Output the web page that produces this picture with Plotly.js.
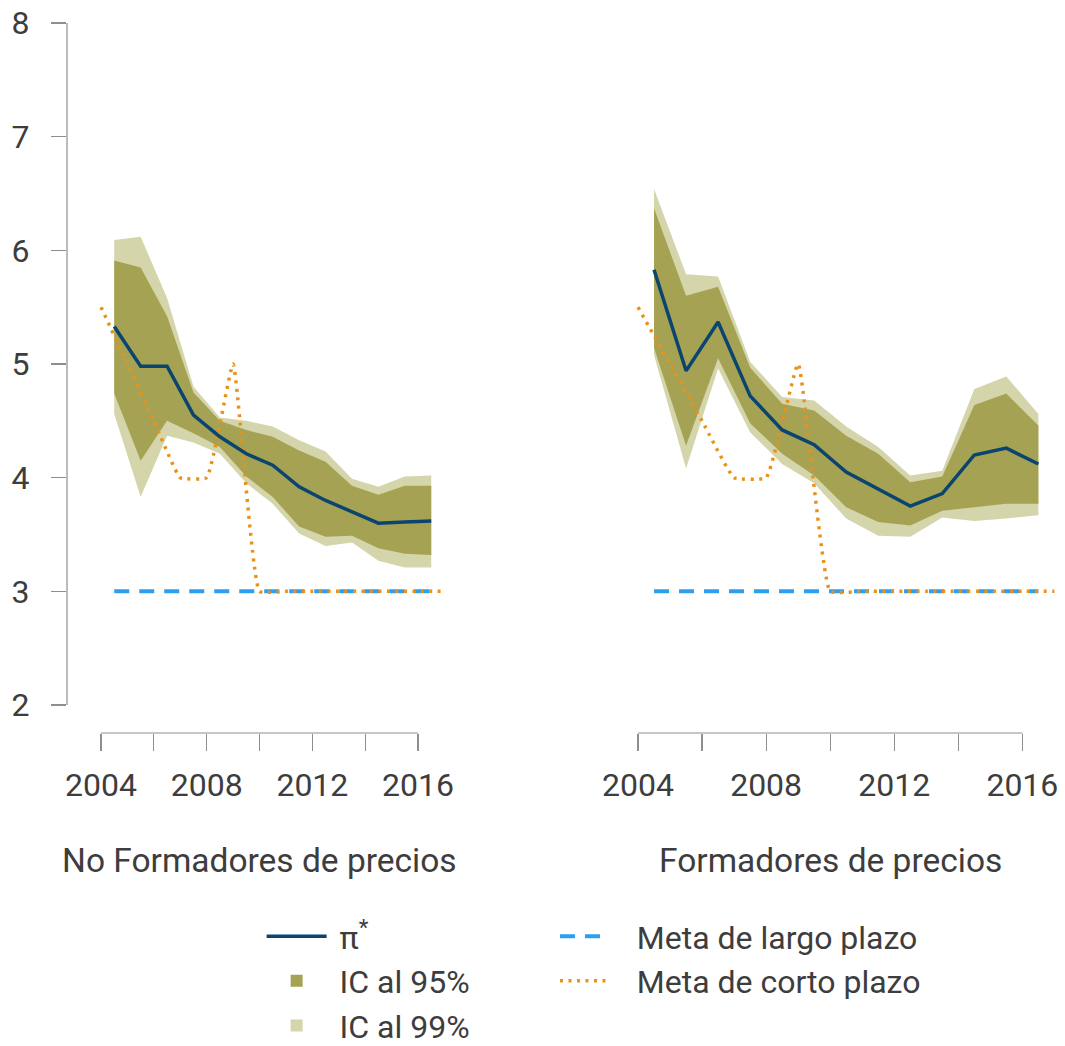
<!DOCTYPE html>
<html>
<head>
<meta charset="utf-8">
<script src="https://cdn.plot.ly/plotly-3.0.1.min.js"></script>
<style>html,body{margin:0;padding:0;background:#fff;}</style>
</head>
<body>
<div id="chart" style="width:1065px;height:1046px;"></div>
<script>
// ---- Data ----
const years = [2004.5, 2005.5, 2006.5, 2007.5, 2008.5, 2009.5, 2010.5, 2011.5, 2012.5, 2013.5, 2014.5, 2015.5, 2016.5];

// No Formadores de precios
const noPi    = [5.33, 4.98, 4.98, 4.55, 4.36, 4.21, 4.11, 3.92, 3.80, 3.70, 3.60, 3.61, 3.62];
const noHi95  = [5.91, 5.85, 5.42, 4.75, 4.50, 4.42, 4.36, 4.24, 4.14, 3.93, 3.85, 3.93, 3.93];
const noLo95  = [4.74, 4.15, 4.50, 4.39, 4.27, 4.01, 3.83, 3.57, 3.48, 3.49, 3.38, 3.33, 3.32];
const noHi99  = [6.09, 6.12, 5.58, 4.80, 4.53, 4.50, 4.45, 4.33, 4.23, 3.99, 3.92, 4.01, 4.02];
const noLo99  = [4.56, 3.83, 4.37, 4.31, 4.21, 3.95, 3.77, 3.51, 3.40, 3.43, 3.27, 3.21, 3.21];

// Formadores de precios
const fPi     = [5.83, 4.94, 5.37, 4.72, 4.42, 4.29, 4.05, 3.90, 3.75, 3.86, 4.20, 4.26, 4.12];
const fHi95   = [6.37, 5.60, 5.68, 4.97, 4.65, 4.59, 4.37, 4.21, 3.96, 4.01, 4.64, 4.74, 4.46];
const fLo95   = [5.14, 4.28, 5.05, 4.48, 4.21, 4.02, 3.74, 3.61, 3.58, 3.71, 3.74, 3.77, 3.77];
const fHi99   = [6.54, 5.79, 5.77, 5.02, 4.71, 4.68, 4.45, 4.27, 4.02, 4.06, 4.78, 4.89, 4.56];
const fLo99   = [5.08, 4.08, 4.96, 4.40, 4.12, 3.95, 3.64, 3.49, 3.48, 3.65, 3.62, 3.64, 3.67];

// Metas
const longTerm = [3, 3, 3, 3, 3, 3, 3, 3, 3, 3, 3, 3, 3];
const targetYears = [2004, 2005, 2006, 2007, 2008, 2009, 2010, 2011, 2012, 2013, 2014, 2015, 2016, 2017];
const shortTerm   = [5.5, 5.0, 4.5, 4.0, 4.0, 5.0, 3.0, 3.0, 3.0, 3.0, 3.0, 3.0, 3.0, 3.0];

const xTickVals = [2004, 2008, 2012, 2016];
const xMinorTickVals = [2006, 2010, 2014];
const yTickVals = [2, 3, 4, 5, 6, 7, 8];

const panelTitles = ['No Formadores de precios', 'Formadores de precios'];
const legendNames = ['π<sup>*</sup>', 'IC al 95%', 'IC al 99%', 'Meta de largo plazo', 'Meta de corto plazo'];

// ---- Styles ----
const C_PI = '#0c4470';
const C_95 = '#a5a353';
const C_99 = '#d5d5ac';
const C_LONG = '#2c9ff0';
const C_SHORT = '#e8921c';
const TXT = '#3d3d3d';
const AX = '#8e8e8e';
const FONT = 'Roboto, "Noto Sans", sans-serif';
const PAD1 = '\u00A0';
const PAD2 = '\u00A0\u00A0\u00A0';

function panel(xa, pi, hi95, lo95, hi99, lo99, first) {
  return [
    {x: years, y: lo99, xaxis: xa, yaxis: 'y', mode: 'lines', line: {width: 0, color: C_99}, showlegend: false, hoverinfo: 'skip'},
    {x: years, y: hi99, xaxis: xa, yaxis: 'y', mode: 'lines', line: {width: 0, color: C_99}, fill: 'tonexty', fillcolor: C_99, showlegend: false, hoverinfo: 'skip'},
    {x: years, y: lo95, xaxis: xa, yaxis: 'y', mode: 'lines', line: {width: 0, color: C_95}, showlegend: false, hoverinfo: 'skip'},
    {x: years, y: hi95, xaxis: xa, yaxis: 'y', mode: 'lines', line: {width: 0, color: C_95}, fill: 'tonexty', fillcolor: C_95, showlegend: false, hoverinfo: 'skip'},
    {x: years, y: longTerm, xaxis: xa, yaxis: 'y', mode: 'lines', name: PAD2 + legendNames[3], legend: 'legend2',
     line: {color: C_LONG, width: 4, dash: '15px,10px'}, showlegend: first},
    {x: targetYears, y: shortTerm, xaxis: xa, yaxis: 'y', mode: 'lines', name: PAD2 + legendNames[4], legend: 'legend2',
     line: {color: C_SHORT, width: 3.5, dash: '3px,5.5px', shape: 'spline', smoothing: 0.35}, showlegend: first},
    {x: years, y: pi, xaxis: xa, yaxis: 'y', mode: 'lines', name: PAD1 + legendNames[0], legend: 'legend',
     line: {color: C_PI, width: 3.5}, showlegend: first}
  ];
}

const legendDummies = [
  {x: [null], y: [null], xaxis: 'x', yaxis: 'y', mode: 'markers', name: PAD1 + legendNames[1], legend: 'legend',
   marker: {symbol: 'square', size: 12, color: C_95}},
  {x: [null], y: [null], xaxis: 'x', yaxis: 'y', mode: 'markers', name: PAD1 + legendNames[2], legend: 'legend',
   marker: {symbol: 'square', size: 12, color: C_99}}
];

const leftTraces = panel('x', noPi, noHi95, noLo95, noHi99, noLo99, true);
const rightTraces = panel('x2', fPi, fHi95, fLo95, fHi99, fLo99, false);
const data = [...leftTraces, ...rightTraces, ...legendDummies];

const xaxisBase = {
  tickmode: 'array', tickvals: xTickVals, ticks: 'outside', ticklen: 17, tickwidth: 1.2, tickcolor: AX,
  minor: {tickmode: 'array', tickvals: xMinorTickVals, ticks: 'outside', ticklen: 17, tickwidth: 1.2, tickcolor: AX, showgrid: false},
  showline: false, showgrid: false, zeroline: false, anchor: 'y',
  tickfont: {family: FONT, size: 32, color: TXT}, ticklabelstandoff: 7, fixedrange: true
};

const layout = {
  width: 1065, height: 1046,
  margin: {l: 67, r: 5, t: 23, b: 313, autoexpand: false},
  paper_bgcolor: '#ffffff', plot_bgcolor: '#ffffff',
  font: {family: FONT, size: 32, color: TXT},
  xaxis: Object.assign({}, xaxisBase, {domain: [0, 0.3857], range: [2002.712, 2017.21]}),
  xaxis2: Object.assign({}, xaxisBase, {domain: [0.5569, 1], range: [2003.438, 2017.175]}),
  yaxis: {
    domain: [0, 1], range: [1.754, 8], tickvals: yTickVals, ticks: 'outside', ticklen: 15, tickwidth: 1.2, tickcolor: AX,
    showline: false, showgrid: false, zeroline: false, anchor: 'x',
    tickfont: {family: FONT, size: 32, color: TXT}, ticklabelstandoff: 15, fixedrange: true
  },
  shapes: [
    {type: 'line', xref: 'x domain', yref: 'y', x0: 0, x1: 0, y0: 2, y1: 8, line: {color: AX, width: 1.2}},
    {type: 'line', xref: 'x', yref: 'y domain', x0: 2004, x1: 2016, y0: 0, y1: 0, line: {color: AX, width: 1.2}},
    {type: 'line', xref: 'x2', yref: 'y domain', x0: 2004, x1: 2016, y0: 0, y1: 0, line: {color: AX, width: 1.2}}
  ],
  annotations: [
    {text: panelTitles[0], xref: 'x', yref: 'paper', x: 2010, y: -0.179, xanchor: 'center', yanchor: 'middle',
     showarrow: false, font: {family: FONT, size: 33.5, color: TXT}},
    {text: panelTitles[1], xref: 'x2', yref: 'paper', x: 2010, y: -0.179, xanchor: 'center', yanchor: 'middle',
     showarrow: false, font: {family: FONT, size: 33.5, color: TXT}}
  ],
  legend: {
    x: 0.196, y: -0.2478, xanchor: 'left', yanchor: 'top', orientation: 'v', traceorder: 'normal',
    bgcolor: 'rgba(0,0,0,0)', font: {family: FONT, size: 32, color: TXT}, itemwidth: 60
  },
  legend2: {
    x: 0.4914, y: -0.2478, xanchor: 'left', yanchor: 'top', orientation: 'v', traceorder: 'normal',
    bgcolor: 'rgba(0,0,0,0)', font: {family: FONT, size: 32, color: TXT}, itemwidth: 48
  },
  showlegend: true
};

Plotly.newPlot('chart', data, layout, {displayModeBar: false, staticPlot: true});
</script>
</body>
</html>
